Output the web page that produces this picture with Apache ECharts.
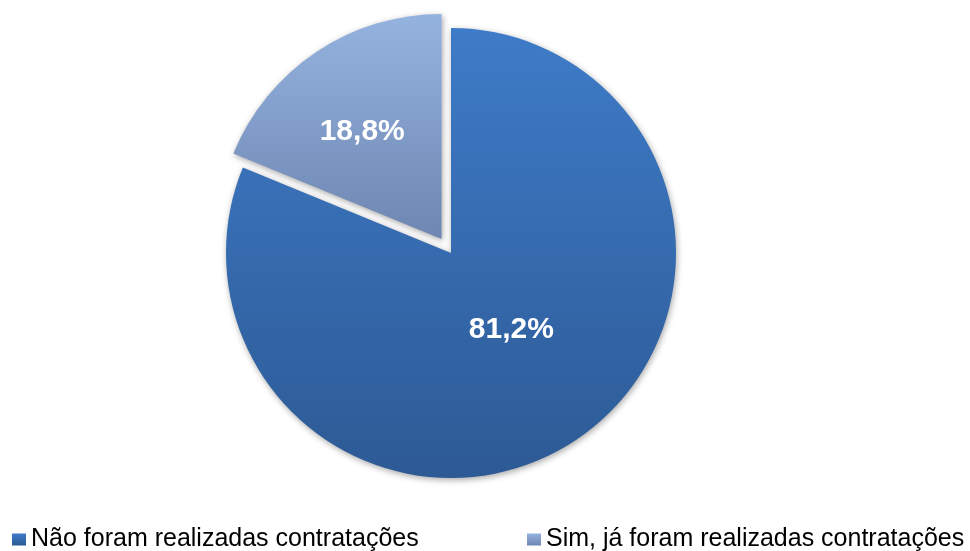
<!DOCTYPE html>
<html>
<head>
<meta charset="utf-8">
<script src="https://cdn.jsdelivr.net/npm/echarts@6/dist/echarts.min.js"></script>
<style>
  html, body { margin: 0; padding: 0; background: #fff; }
  #chart { width: 970px; height: 551px; }
</style>
</head>
<body>
<div id="chart"></div>
<script>
// categorias e valores (%)
var categories = ['Não foram realizadas contratações', 'Sim, já foram realizadas contratações'];
var values = [81.2, 18.8];
var labels = ['81,2%', '18,8%'];

var fills = [
  new echarts.graphic.LinearGradient(0, 0, 0, 1, [
    {offset: 0, color: '#3e7bc8'},
    {offset: 1, color: '#2d5a95'}
  ]),
  new echarts.graphic.LinearGradient(0, 0, 0, 1, [
    {offset: 0, color: '#95b3df'},
    {offset: 1, color: '#6e86b2'}
  ])
];

var pieData = categories.map(function (name, i) {
  return {
    name: name,
    value: values[i],
    selected: i === 1,
    itemStyle: {color: fills[i]},
    label: {formatter: labels[i]}
  };
});

var legendFont = {
  fontFamily: '"Liberation Sans", Arial, sans-serif',
  fontSize: 25,
  color: '#000'
};

// nudge inside labels a little towards where the original puts them
var labelShift = [[-4, -19], [-15, -11]];

var option = {
  backgroundColor: '#fff',
  animation: false,
  legend: [{
    data: [categories[0]],
    left: 12,
    top: 527,
    padding: 0,
    icon: 'rect',
    itemWidth: 14,
    itemHeight: 12,
    itemGap: 0,
    textStyle: legendFont
  }, {
    data: [categories[1]],
    left: 527,
    top: 527,
    padding: 0,
    icon: 'rect',
    itemWidth: 14,
    itemHeight: 12,
    itemGap: 0,
    textStyle: legendFont
  }],
  series: [{
    type: 'pie',
    center: [451, 253],
    radius: [0, 225],
    startAngle: 90,
    clockwise: true,
    selectedMode: 'single',
    selectedOffset: 17,
    itemStyle: {
      shadowBlur: 6,
      shadowColor: 'rgba(0,0,0,0.35)',
      shadowOffsetX: 1,
      shadowOffsetY: 2
    },
    label: {
      position: 'inside',
      color: '#fff',
      fontFamily: '"Liberation Sans", Arial, sans-serif',
      fontWeight: 'bold',
      fontSize: 30
    },
    labelLine: {show: false},
    labelLayout: function (params) {
      var s = labelShift[params.dataIndex];
      return {dx: s[0], dy: s[1]};
    },
    emphasis: {disabled: true},
    data: pieData
  }]
};

var chart = echarts.init(document.getElementById('chart'));
chart.setOption(option);
</script>
</body>
</html>
